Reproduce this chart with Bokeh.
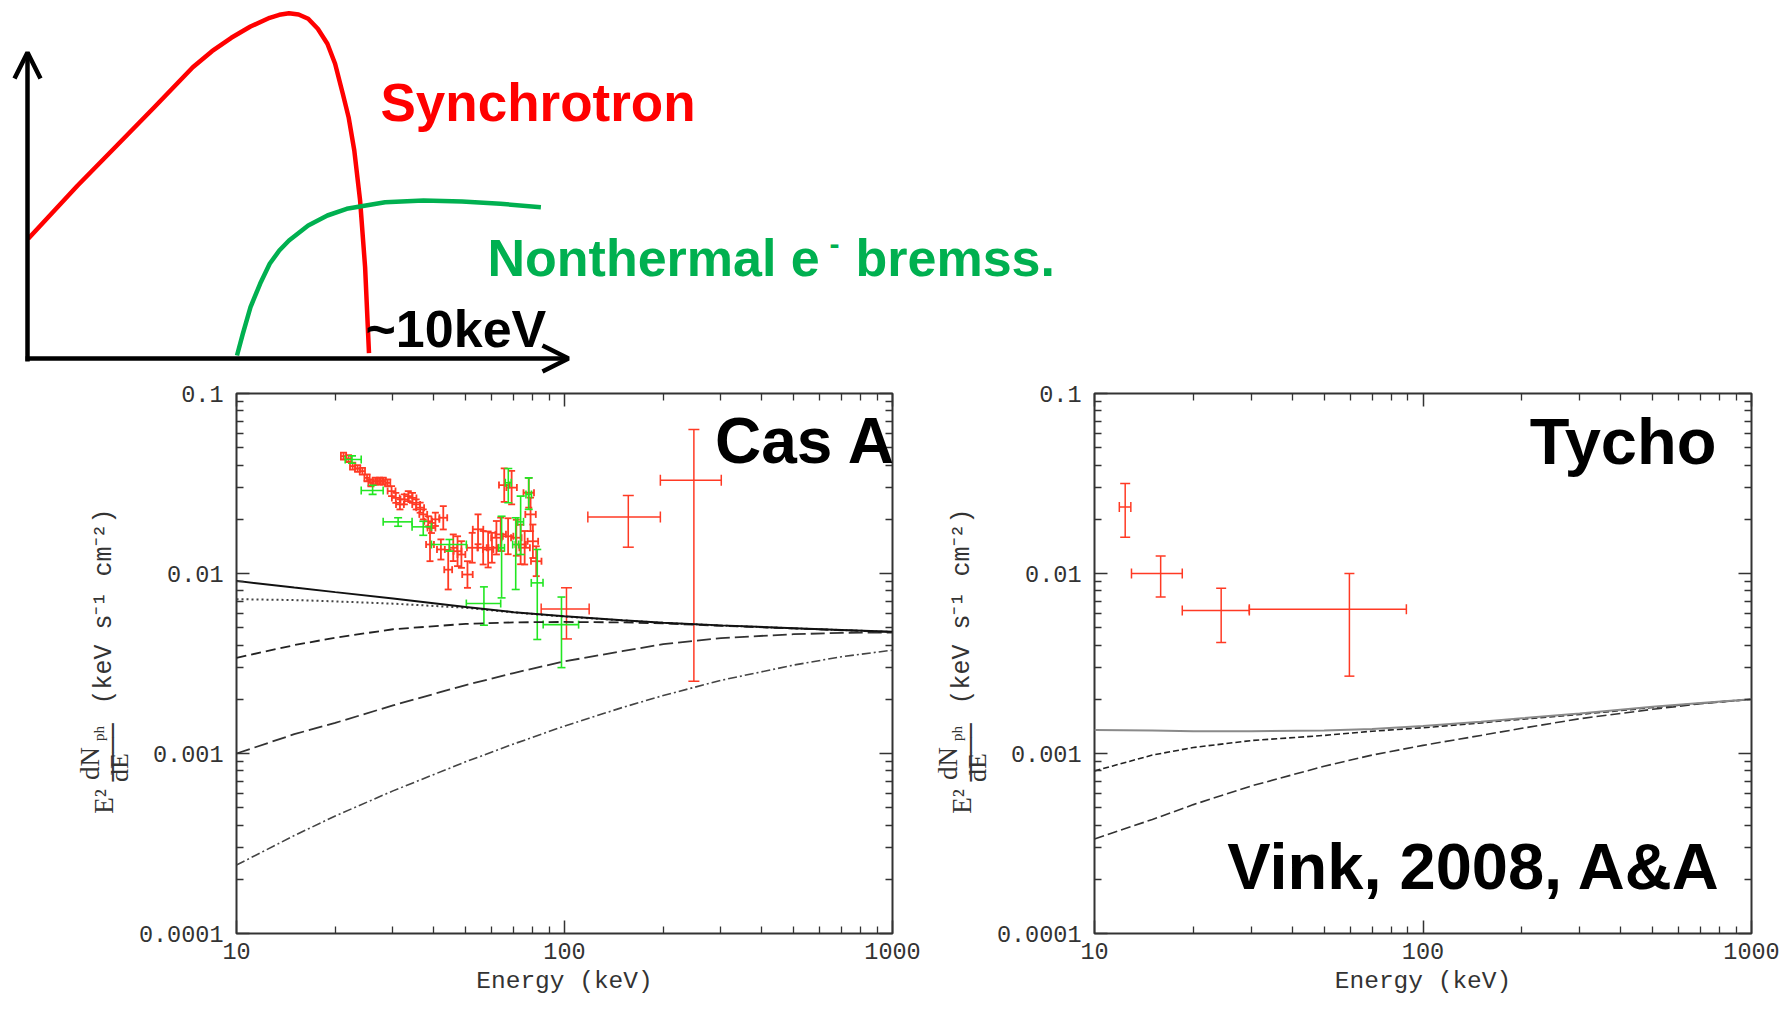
import math
from bokeh.plotting import figure
from bokeh.models import (Range1d, FixedTicker, LogAxis, Label, Whisker, TeeHead,
                          ColumnDataSource, Arrow, OpenHead)
from bokeh.layouts import column, row
from bokeh.embed import file_html
from bokeh.resources import INLINE

# ---------------- schematic spectrum (sketch units, origin at the axis corner) ----------------
sync_x = [0.7, 49.9, 88.4, 126.8, 165.3, 184.5, 203.8, 223.0, 242.2, 251.8, 261.5, 271.1,
          280.7, 290.3, 299.9, 307.6, 315.3, 321.1, 326.8, 332.6, 337.6, 341.5]
sync_y = [119.7, 172.7, 212.0, 251.3, 291.3, 307.3, 320.7, 332.0, 340.7, 343.7, 345.3, 344.0,
          339.7, 329.7, 314.7, 294.7, 264.7, 241.3, 208.0, 158.0, 91.3, 5.3]
brems_x = [209.5, 215.3, 223.0, 232.6, 242.2, 251.8, 261.5, 280.7, 299.9, 319.2, 357.6,
           396.0, 434.5, 473.0, 513.4]
brems_y = [3.0, 24.7, 51.3, 74.7, 94.7, 108.0, 118.0, 133.0, 143.0, 149.7, 156.3,
           158.0, 157.0, 154.7, 151.3]

# ---------------- model curves (keV, keV s^-1 cm^-2) ----------------
model_E = [10, 15, 20, 30, 50, 70, 100, 150, 200, 300, 500, 700, 1000]

casa_total = [0.00910, 0.00835, 0.00788, 0.00727, 0.00652, 0.00610, 0.00578,
              0.00550, 0.00533, 0.00515, 0.00497, 0.00486, 0.00474]
casa_dotted = [0.00720, 0.00712, 0.00700, 0.00680, 0.00645, 0.00608, 0.00576,
               0.00549, 0.00532, 0.00514, 0.00496, 0.00485, 0.00473]
casa_short = [0.00340, 0.00400, 0.00440, 0.00490, 0.00525, 0.00535, 0.00538,
              0.00535, 0.00528, 0.00512, 0.00495, 0.00484, 0.00473]
casa_long = [0.00100, 0.00128, 0.00148, 0.00185, 0.00240, 0.00280, 0.00325,
             0.00370, 0.00405, 0.00438, 0.00460, 0.00468, 0.00470]
casa_dashdot = [0.000240, 0.000350, 0.000450, 0.000620, 0.000900, 0.00113, 0.00142,
                0.00180, 0.00210, 0.00255, 0.00310, 0.00345, 0.00375]

tycho_total = [0.00135, 0.00134, 0.00133, 0.00133, 0.00134, 0.00137, 0.00142,
               0.00150, 0.00157, 0.00167, 0.00182, 0.00191, 0.00200]
tycho_short = [0.00080, 0.00098, 0.00108, 0.00118, 0.00126, 0.00133, 0.00139,
               0.00148, 0.00155, 0.00165, 0.00180, 0.00190, 0.00200]
tycho_long = [0.000335, 0.00043, 0.00052, 0.00066, 0.00085, 0.00098, 0.00111,
              0.00126, 0.00138, 0.00156, 0.00176, 0.00189, 0.00200]

# ---------------- Cas A data ----------------
casa_red_E = [21.2, 21.95, 22.6, 23.4, 24.2, 25.0, 25.7, 26.5, 27.3, 28.0, 28.9,
              29.7, 30.6, 31.5, 32.5, 33.4, 34.4, 35.3, 36.3, 37.1, 38.4, 39.3,
              40.4, 38.9, 42.0, 42.7, 44.2, 45.8, 47.2, 48.5, 50.6, 52.3, 54.5,
              56.5, 58.5, 60.1, 62.0, 63.9, 65.5, 67.3, 69.0, 71.3, 73.5, 75.6,
              77.8, 78.8, 80.1, 82.0]
casa_red_F = [0.0449, 0.0435, 0.0395, 0.0383, 0.0370, 0.0340, 0.0319, 0.0326, 0.0326, 0.0326, 0.0319,
              0.0287, 0.0263, 0.0242, 0.0258, 0.0269, 0.0263, 0.0242, 0.0232, 0.0213, 0.0195, 0.0179,
              0.0200, 0.0145, 0.0136, 0.0204, 0.0105, 0.0139, 0.0133, 0.01275, 0.00987, 0.0139, 0.0176,
              0.0139, 0.0136, 0.0139, 0.0158, 0.0165, 0.0310, 0.0161, 0.0300, 0.0158, 0.0145, 0.0139,
              0.0281, 0.0213, 0.0151, 0.0117]
casa_red_dlogF = [0.019, 0.019, 0.019, 0.019, 0.019, 0.019, 0.019, 0.019, 0.019, 0.019, 0.019,
                  0.028, 0.028, 0.028, 0.028, 0.028, 0.028, 0.028, 0.028, 0.028, 0.028, 0.028,
                  0.037, 0.093, 0.056, 0.065, 0.110, 0.074, 0.083, 0.074, 0.074, 0.083, 0.083,
                  0.093, 0.100, 0.083, 0.093, 0.093, 0.093, 0.100, 0.093, 0.100, 0.110, 0.093,
                  0.083, 0.093, 0.093, 0.083]
casa_red_dlogE = [0.008, 0.008, 0.008, 0.008, 0.008, 0.008, 0.008, 0.008, 0.008, 0.008, 0.008,
                  0.012, 0.012, 0.012, 0.012, 0.012, 0.012, 0.012, 0.012, 0.012, 0.012, 0.012,
                  0.012, 0.012, 0.012, 0.012, 0.012, 0.012, 0.012, 0.012, 0.016, 0.016, 0.016,
                  0.016, 0.016, 0.016, 0.016, 0.016, 0.016, 0.016, 0.016, 0.016, 0.016, 0.016,
                  0.016, 0.016, 0.016, 0.016]

casa_red_hi_E = [101.4, 156.5, 248.0]
casa_red_hi_Elo = [84.9, 117.8, 196.0]
casa_red_hi_Ehi = [118.9, 196.0, 300.6]
casa_red_hi_F = [0.00636, 0.0206, 0.0330]
casa_red_hi_Flo = [0.00433, 0.0140, 0.00252]
casa_red_hi_Fhi = [0.00833, 0.0271, 0.0630]

casa_green_E = [22.5, 26.0, 31.1, 37.1, 44.6, 56.8, 64.3, 67.4, 71.0, 73.5, 77.8, 82.6, 97.9]
casa_green_Elo = [21.45, 24.0, 28.0, 34.3, 39.3, 50.2, 63.0, 66.0, 69.5, 72.0, 76.3, 79.2, 86.1]
casa_green_Ehi = [24.0, 28.0, 34.3, 39.3, 50.2, 63.9, 65.6, 68.8, 72.5, 75.0, 79.3, 86.0, 110.4]
casa_green_F = [0.0430, 0.0289, 0.01936, 0.01816, 0.01449, 0.00681, 0.01388, 0.0319,
                0.01449, 0.01936, 0.0275, 0.00887, 0.0052]
casa_green_Flo = [0.0410, 0.0275, 0.0183, 0.0163, 0.01331, 0.00516, 0.00732, 0.0247,
                  0.00815, 0.01275, 0.0227, 0.0043, 0.0030]
casa_green_Fhi = [0.0450, 0.0309, 0.0204, 0.0195, 0.01545, 0.00843, 0.0208, 0.0383,
                  0.0204, 0.0269, 0.0340, 0.0136, 0.0074]

# ---------------- Tycho data ----------------
tycho_E = [12.4, 15.9, 24.3, 59.7]
tycho_Elo = [11.9, 12.96, 18.5, 29.6]
tycho_Ehi = [12.9, 18.5, 29.6, 89.0]
tycho_F = [0.0234, 0.0100, 0.00623, 0.00633]
tycho_Flo = [0.0159, 0.0074, 0.00414, 0.00269]
tycho_Fhi = [0.0316, 0.0125, 0.00828, 0.0100]

# ---------------- axis ticks ----------------
x_ticks = [10, 100, 1000]
x_tick_labels = ["10", "100", "1000"]
y_ticks = [0.0001, 0.001, 0.01, 0.1]
y_tick_labels = ["0.0001", "0.001", "0.01", "0.1"]

RED = "#ff3a24"
GREEN = "#22e622"
INK = "#333333"
BOLD_FONT = "Liberation Sans"
AXIS_FONT = "Liberation Mono"
SERIF_FONT = "Liberation Serif"
DROP = 0.35   # how far (in em) a label is drawn below its alphabetic anchor

x_minor = [m * d for d in (10, 100) for m in range(2, 10)]
y_minor = [m * d for d in (0.0001, 0.001, 0.01) for m in range(2, 10)]


def bare_figure(width, height, x_range, y_range):
    return figure(width=width, height=height, x_range=x_range, y_range=y_range,
                  x_axis_type=None, y_axis_type=None, toolbar_location=None,
                  output_backend="svg", min_border=0, outline_line_color=None)


def big_text(p, x, y, text, color, size):
    p.add_layout(Label(x=x, y=y, text=text, text_font=BOLD_FONT, text_font_style="bold",
                       text_font_size=f"{size}px", text_color=color,
                       text_align="left", text_baseline="alphabetic"))


# ---------------- top sketch ----------------
top = bare_figure(1787, 380, Range1d(-27, 1760), Range1d(-22, 358))
top.line(sync_x, sync_y, line_color="#ff0000", line_width=4.5, line_join="round")
top.line(brems_x, brems_y, line_color="#00b050", line_width=4.5, line_join="round")
top.add_layout(Arrow(end=OpenHead(size=26, line_width=4.5, line_color="black"),
                     x_start=0, y_start=-3, x_end=0, y_end=306,
                     line_width=4.5, line_color="black"))
top.add_layout(Arrow(end=OpenHead(size=26, line_width=4.5, line_color="black"),
                     x_start=-2, y_start=0, x_end=541, y_end=0,
                     line_width=4.5, line_color="black"))


def sketch_text(x, y, text, color, size):
    big_text(top, x, y + DROP * size, text, color, size)


sketch_text(353, 237, "Synchrotron", "#ff0000", 53)
sketch_text(460, 82, "Nonthermal e", "#00b050", 52)
sketch_text(802, 104, "-", "#00b050", 30)
sketch_text(828, 82, "bremss.", "#00b050", 52)
sketch_text(338, 11, "~10keV", "black", 52)


# ---------------- spectral panels ----------------
def fx(dx):
    """energy that lies dx px right of the frame's left edge"""
    return 10 ** (1 + dx / 329.0)


def fy(py):
    """flux that lies at page row py"""
    return 10 ** (-1 - (py - 393) / 180.0)


def style_axis(ax, ticks, minor, labels, show_labels):
    ax.ticker = FixedTicker(ticks=ticks, minor_ticks=minor)
    ax.axis_line_color = None
    ax.major_tick_in = 13
    ax.major_tick_out = 0
    ax.minor_tick_in = 7
    ax.minor_tick_out = 0
    ax.major_tick_line_color = INK
    ax.minor_tick_line_color = INK
    ax.major_tick_line_width = 1.5
    ax.minor_tick_line_width = 1.3
    if show_labels:
        ax.major_label_overrides = dict(zip(ticks, labels))
        ax.major_label_text_font = AXIS_FONT
        ax.major_label_text_font_size = "23.5px"
        ax.major_label_text_color = INK
    else:
        ax.major_label_overrides = {t: "" for t in ticks}
        ax.major_label_text_font_size = "1px"
        ax.major_label_standoff = 0


def make_panel(width, left, right):
    p = figure(width=width, height=630, x_axis_type="log", y_axis_type="log",
               x_range=Range1d(10, 1000), y_range=Range1d(1e-4, 0.1),
               toolbar_location=None, output_backend="svg",
               min_border_left=left, min_border_right=right,
               min_border_top=13, min_border_bottom=77)
    p.grid.visible = False
    p.outline_line_color = INK
    p.outline_line_width = 2
    style_axis(p.xaxis[0], x_ticks, x_minor, x_tick_labels, True)
    style_axis(p.yaxis[0], y_ticks, y_minor, y_tick_labels, True)
    p.xaxis[0].major_label_standoff = 9
    p.yaxis[0].major_label_standoff = 13
    p.xaxis[0].axis_label = "Energy (keV)"
    p.xaxis[0].axis_label_text_font = AXIS_FONT
    p.xaxis[0].axis_label_text_font_size = "24.5px"
    p.xaxis[0].axis_label_text_font_style = "normal"
    p.xaxis[0].axis_label_text_color = INK
    p.xaxis[0].axis_label_standoff = 6
    top_ax = LogAxis()
    style_axis(top_ax, x_ticks, x_minor, x_tick_labels, False)
    p.add_layout(top_ax, "above")
    right_ax = LogAxis()
    style_axis(right_ax, y_ticks, y_minor, y_tick_labels, False)
    p.add_layout(right_ax, "right")
    return p


def make_ylabel(x0, x1):
    """strip left of a panel holding the rotated label E^2 dN_ph/dE (keV s^-1 cm^-2).
    Its frame lines up with the panel frames (page rows 393..933)."""
    s = bare_figure(x1 - x0, 630, Range1d(x0, x1), Range1d(933, 393))
    shift = x1 - 135   # the strip's right edge sits at x1

    def rot(base_x, cy, text, font, size):
        s.add_layout(Label(x=base_x + shift - DROP * size, y=cy, text=text, angle=math.pi / 2,
                           text_font=font, text_font_size=f"{size}px", text_color=INK,
                           text_align="center", text_baseline="alphabetic"))
    rot(113, 606, "(keV s\u207b\u00b9 cm\u207b\u00b2)", AXIS_FONT, 25)
    rot(113, 801, "E\u00b2", SERIF_FONT, 27)
    rot(99, 763, "dN", SERIF_FONT, 27)
    rot(104, 733, "ph", SERIF_FONT, 15)
    rot(120.4, 752, "\u2500\u2500\u2500\u2500", "DejaVu Sans Mono", 24)
    rot(128.5, 767, "dE", SERIF_FONT, 26)
    return s


def error_bars(p, E, Elo, Ehi, F, Flo, Fhi, color, cap, width):
    src = ColumnDataSource(dict(E=E, Elo=Elo, Ehi=Ehi, F=F, Flo=Flo, Fhi=Fhi))
    p.add_layout(Whisker(source=src, base="E", lower="Flo", upper="Fhi", dimension="height",
                         line_color=color, line_width=width,
                         upper_head=TeeHead(size=cap, line_color=color, line_width=width),
                         lower_head=TeeHead(size=cap, line_color=color, line_width=width)))
    p.add_layout(Whisker(source=src, base="F", lower="Elo", upper="Ehi", dimension="width",
                         line_color=color, line_width=width,
                         upper_head=TeeHead(size=cap, line_color=color, line_width=width),
                         lower_head=TeeHead(size=cap, line_color=color, line_width=width)))


def panel_text(p, px_from_left, py, text, size):
    big_text(p, fx(px_from_left), fy(py - DROP * size), text, "black", size)


# Cas A panel (page columns 135..922, frame 234..892)
casa = make_panel(787, 99, 30)
casa.line(model_E, casa_dashdot, line_color="#444444", line_width=1.6, line_dash="9 3 2 3")
casa.line(model_E, casa_long, line_color="#333333", line_width=1.8, line_dash="14 5")
casa.line(model_E, casa_short, line_color="#222222", line_width=1.8, line_dash="10 5")
casa.line(model_E, casa_dotted, line_color="#444444", line_width=2, line_dash="2 3")
casa.line(model_E, casa_total, line_color="#111111", line_width=2)

red_Elo = [e / 10 ** d for e, d in zip(casa_red_E, casa_red_dlogE)]
red_Ehi = [e * 10 ** d for e, d in zip(casa_red_E, casa_red_dlogE)]
red_Flo = [f / 10 ** d for f, d in zip(casa_red_F, casa_red_dlogF)]
red_Fhi = [f * 10 ** d for f, d in zip(casa_red_F, casa_red_dlogF)]
error_bars(casa, casa_red_E, red_Elo, red_Ehi, casa_red_F, red_Flo, red_Fhi, RED, 7, 1.8)
error_bars(casa, casa_red_hi_E, casa_red_hi_Elo, casa_red_hi_Ehi,
           casa_red_hi_F, casa_red_hi_Flo, casa_red_hi_Fhi, RED, 11, 1.5)
error_bars(casa, casa_green_E, casa_green_Elo, casa_green_Ehi,
           casa_green_F, casa_green_Flo, casa_green_Fhi, GREEN, 8, 1.6)
panel_text(casa, 714 - 234, 463, "Cas A", 64)

# Tycho panel (page columns 993..1787, frame 1093..1751)
tycho = make_panel(794, 100, 36)
tycho.line(model_E, tycho_long, line_color="#333333", line_width=1.6, line_dash="10 4")
tycho.line(model_E, tycho_short, line_color="#222222", line_width=1.6, line_dash="6 3")
tycho.line(model_E, tycho_total, line_color="#8a8a8a", line_width=2)
error_bars(tycho, tycho_E, tycho_Elo, tycho_Ehi, tycho_F, tycho_Flo, tycho_Fhi, RED, 10, 1.5)
panel_text(tycho, 1529 - 1093, 464, "Tycho", 65)
panel_text(tycho, 1226 - 1093, 889, "Vink, 2008, A&A", 65)

layout = column(top, row(make_ylabel(0, 135), casa, make_ylabel(922, 993), tycho))
open("out.html", "w").write(file_html(layout, INLINE))
